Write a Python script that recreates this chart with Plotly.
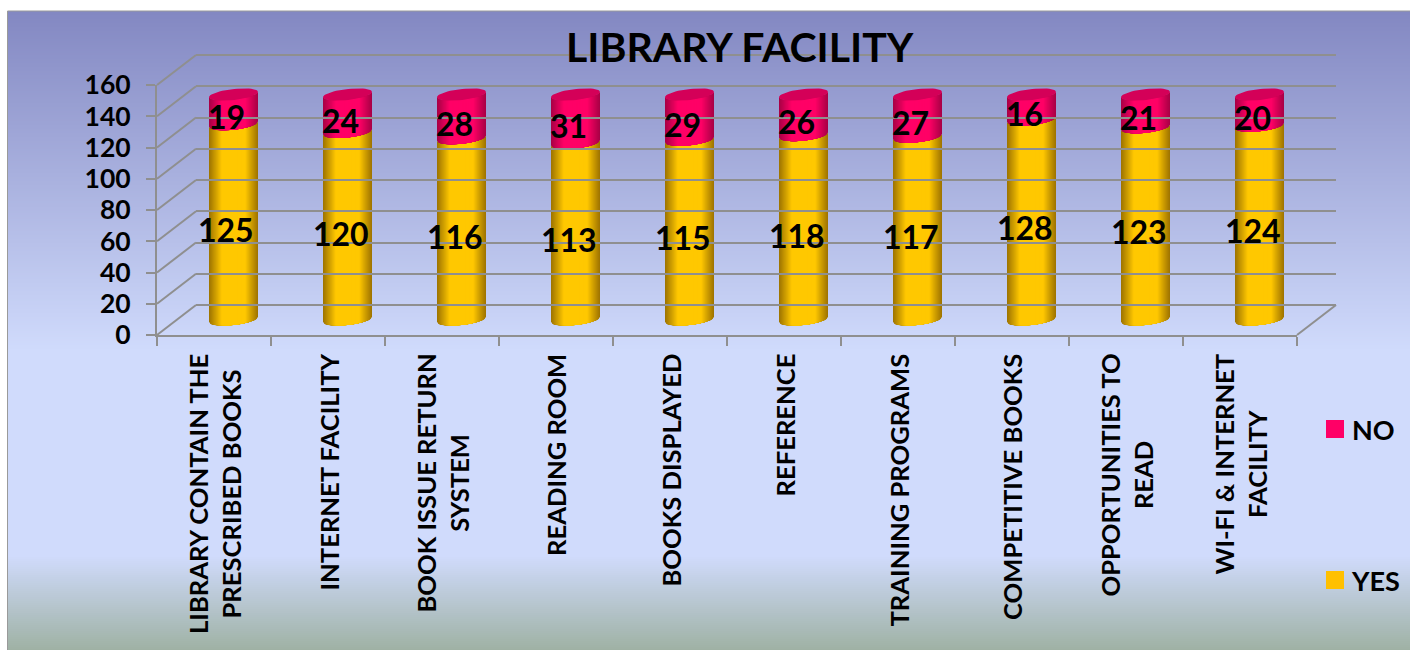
import numpy as np
import plotly.graph_objects as go

categories = ["LIBRARY CONTAIN THE<br>PRESCRIBED BOOKS", "INTERNET FACILITY", "BOOK ISSUE RETURN<br>SYSTEM",
              "READING ROOM", "BOOKS DISPLAYED", "REFERENCE", "TRAINING PROGRAMS", "COMPETITIVE BOOKS",
              "OPPORTUNITIES TO<br>READ", "WI-FI &amp; INTERNET<br>FACILITY"]
yes_values = [125, 120, 116, 113, 115, 118, 117, 128, 123, 124]
no_values = [19, 24, 28, 31, 29, 26, 27, 16, 21, 20]
y_ticks = [0, 20, 40, 60, 80, 100, 120, 140, 160]
chart_title = "LIBRARY FACILITY"

W, H = 1410, 650
FONT = "Lato"
GRID = "#8f8f8f"
X_UNIT = 114.0
Y_UNIT = 250 / 160
PAD = 10  # axis units kept around 0..160 so marks are not clipped
BAR_W = 49 / X_UNIT
RY = 5.5 / Y_UNIT
TILT = 2.6 / Y_UNIT
xs = list(range(len(categories)))


def hdom(a, b):
    return [a / W, b / W]


def vdom(bottom, top):
    return [1 - (bottom + PAD * Y_UNIT) / H, 1 - (top - PAD * Y_UNIT) / H]


def mix(a, b, t):
    return "rgb(%d,%d,%d)" % tuple(round(a[i] + (b[i] - a[i]) * t) for i in range(3))


def strip(cx, low, high, w):
    us = np.linspace(-w, w, 25)
    xv = cx + us * BAR_W / 2
    dep = np.sqrt(np.maximum(0, 1 - us ** 2))
    bottom = low - RY * dep + TILT * us
    top = high - RY * dep + TILT * us
    return list(xv) + list(xv[::-1]) + [xv[0], None], list(bottom) + list(top[::-1]) + [bottom[0], None]


fig = go.Figure()
fig.add_bar(x=xs, y=yes_values, name="YES", width=BAR_W * 0.8, marker=dict(color="#FFC000", line_width=0), showlegend=False, hoverinfo="skip")
fig.add_bar(x=xs, y=no_values, base=yes_values, name="NO", width=BAR_W * 0.8, marker=dict(color="#FF0066", line_width=0), showlegend=False, hoverinfo="skip")

LEVELS = np.linspace(1, 0.04, 22)
series = [
    ([0] * len(xs), yes_values, (160, 118, 0), (255, 200, 0)),
    (yes_values, [a + b for a, b in zip(yes_values, no_values)], (170, 0, 70), (255, 0, 102)),
]
for base, tops, dark, light in series:
    for w in LEVELS:
        px, py = [], []
        for i in xs:
            a, b = strip(i, base[i], tops[i], w)
            px += a
            py += b
        fig.add_scatter(x=px, y=py, mode="lines", fill="toself", line=dict(width=0), fillcolor=mix(dark, light, min(1, (1 - w) / 0.5)),
                        showlegend=False, hoverinfo="skip")

cx, cy = [], []
for i in xs:
    t = np.linspace(0, 2 * np.pi, 50)
    total = yes_values[i] + no_values[i]
    us = np.cos(t)
    cx += list(i + us * BAR_W / 2) + [None]
    cy += list(total + RY * np.sin(t) + TILT * us) + [None]
fig.add_scatter(x=cx, y=cy, mode="lines", fill="toself", line=dict(width=0), fillcolor="#D40058", showlegend=False, hoverinfo="skip")

fig.add_scatter(x=[None], y=[None], xaxis="x2", yaxis="y2", showlegend=False, hoverinfo="skip")
fig.add_scatter(x=[None], y=[None], xaxis="x3", yaxis="y3", showlegend=False, hoverinfo="skip")

annos = []
for i in xs:
    annos.append(dict(x=i, y=yes_values[i] / 2, xref="x", yref="y", text=str(yes_values[i]), showarrow=False, xshift=-7, yshift=-8,
                      font=dict(family=FONT, size=32, color="black", weight="bold")))
    annos.append(dict(x=i, y=yes_values[i] + no_values[i] / 2, xref="x", yref="y", text=str(no_values[i]), showarrow=False, xshift=-7, yshift=-7,
                      font=dict(family=FONT, size=32, color="black", weight="bold")))
    annos.append(dict(x=i, y=1 - 352 / H, xref="x2", yref="paper", text=categories[i], showarrow=False, textangle=-90, yanchor="top", xanchor="center",
                      align="center", font=dict(family=FONT, size=25.6, color="black", weight="bold")))
annos.append(dict(x=1373.5 / W, y=1 - 429 / H, xref="paper", yref="paper", text="NO", showarrow=False, xanchor="center", yanchor="middle",
                  font=dict(family=FONT, size=27, color="black", weight="bold")))
annos.append(dict(x=1375.5 / W, y=1 - 580 / H, xref="paper", yref="paper", text="YES", showarrow=False, xanchor="center", yanchor="middle",
                  font=dict(family=FONT, size=27, color="black", weight="bold")))
annos.append(dict(x=740 / W, y=1 - 46 / H, xref="paper", yref="paper", text=chart_title, showarrow=False, xanchor="center", yanchor="middle",
                  font=dict(family=FONT, size=41, color="black", weight="bold")))

shapes = []
stops = [(11, (131, 136, 194)), (350, (208, 219, 252)), (555, (208, 219, 252)), (650, (158, 177, 163))]
for y in range(11, 650, 2):
    for (y0, c0), (y1, c1) in zip(stops, stops[1:]):
        if y0 <= y <= y1:
            col = mix(c0, c1, (y - y0) / (y1 - y0))
            break
    shapes.append(dict(type="rect", xref="paper", yref="paper", x0=8 / W, x1=1, y0=0, y1=1 - y / H,
                       fillcolor=col, line_width=0, layer="below"))
shapes.append(dict(type="line", xref="paper", yref="paper", x0=7.5 / W, x1=7.5 / W, y0=0, y1=1 - 11 / H, line=dict(color="#9a9a9a", width=1), layer="below"))
shapes.append(dict(type="line", xref="paper", yref="paper", x0=7.5 / W, x1=1, y0=1 - 11 / H, y1=1 - 11 / H, line=dict(color="#9a9a9a", width=1), layer="below"))
for v in y_ticks:
    yf = 335 - v * Y_UNIT
    shapes.append(dict(type="line", xref="paper", yref="paper", x0=157 / W, x1=196 / W, y0=1 - yf / H, y1=1 - (yf - 30) / H,
                       line=dict(color=GRID, width=2), layer="below"))
shapes.append(dict(type="line", xref="paper", yref="paper", x0=1297 / W, x1=1336 / W, y0=1 - 335 / H, y1=1 - 305 / H,
                   line=dict(color=GRID, width=2), layer="below"))
for yc, col in ((429, "#FF0066"), (580, "#FFC000")):
    shapes.append(dict(type="rect", xref="paper", yref="paper", x0=1326 / W, x1=1344 / W, y0=1 - (yc + 9) / H, y1=1 - (yc - 9) / H,
                       fillcolor=col, line_width=0))

fig.update_layout(
    width=W, height=H, autosize=False, margin=dict(l=0, r=0, t=0, b=0, pad=0, autoexpand=False), barmode="overlay", showlegend=False,
    paper_bgcolor="white", plot_bgcolor="rgba(0,0,0,0)", shapes=shapes, annotations=annos,
    xaxis=dict(domain=hdom(176.5, 1316.5), range=[-0.5, 9.5], visible=False, anchor="y"),
    yaxis=dict(domain=vdom(319.5, 69.5), range=[-PAD, 160 + PAD], visible=False, anchor="x"),
    xaxis2=dict(domain=hdom(157, 1297), range=[-0.5, 9.5], anchor="y2", tickmode="array", tickvals=[i - 0.5 for i in range(11)], ticktext=[""] * 11,
                ticks="outside", ticklen=9, tickwidth=2, tickcolor=GRID, showline=True, linecolor=GRID, linewidth=2, showgrid=False, zeroline=False),
    yaxis2=dict(domain=[1 - 335 / H, 1 - 85 / H], range=[0, 160], anchor="x2", tickmode="array", tickvals=y_ticks, ticks="outside", ticklen=9, tickwidth=2, tickcolor=GRID,
                ticklabelstandoff=10, showline=True, linecolor=GRID, linewidth=2, showgrid=False, zeroline=False,
                tickfont=dict(family=FONT, size=26.5, color="black", weight="bold")),
    xaxis3=dict(domain=hdom(196, 1336), range=[-0.5, 9.5], anchor="y3", visible=False),
    yaxis3=dict(domain=vdom(305, 55), range=[-PAD, 160 + PAD], anchor="x3", tickmode="array", tickvals=y_ticks, ticks="", showticklabels=False, showgrid=True,
                gridcolor=GRID, gridwidth=2, zeroline=False, showline=False),
)
fig.write_html("out.html", config={"displayModeBar": False},
               post_script="document.body.style.margin='0';document.documentElement.style.overflow='hidden';")
